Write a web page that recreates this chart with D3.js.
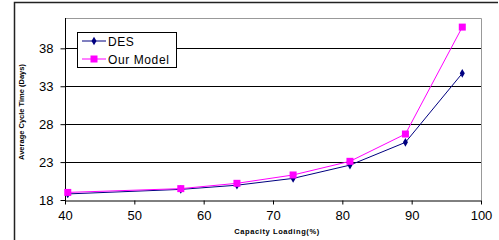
<!DOCTYPE html>
<html><head><meta charset="utf-8">
<script src="https://cdn.jsdelivr.net/npm/d3@7"></script>
<style>body{margin:0;background:#fff;}svg{display:block;font-family:Arial,"Liberation Sans",sans-serif;}</style>
</head><body>
<svg id="c" width="499" height="240"></svg>
<script>
const loading = [40.4, 56.7, 64.8, 72.9, 81.1, 89.1, 97.3];
const desValues = [18.8, 19.4, 19.95, 20.85, 22.6, 25.6, 34.7];
const modelValues = [19.0, 19.5, 20.2, 21.3, 23.1, 26.7, 40.8];
const seriesNames = ["DES", "Our Model"];
const xTicks = [40, 50, 60, 70, 80, 90, 100];
const yTicks = [18, 23, 28, 33, 38];

const svg = d3.select("#c");
const L = 65, R = 481, T = 18, B = 200;
const x = d3.scaleLinear().domain([40, 100]).range([L, R]);
const y = d3.scaleLinear().domain([18, 42]).range([B, T]);

// outer frame
svg.append("path").attr("d", `M14.5,240 V2.5 H498`).attr("fill","none").attr("stroke","#222").attr("stroke-width",1.5);

// plot border (gray)
svg.append("path").attr("d", `M${L},${T+0.5} H${R+0.5} V${B}`).attr("fill","none").attr("stroke","#999").attr("stroke-width",1);

// gridlines
svg.append("g").selectAll("line").data(yTicks.slice(1)).join("line")
  .attr("x1", L).attr("x2", R).attr("y1", d => Math.round(y(d))+0.5).attr("y2", d => Math.round(y(d))+0.5)
  .attr("stroke", "#000").attr("stroke-width", 1);

// axes
const yAxis = d3.axisLeft(y).tickValues(yTicks).tickSize(5).tickSizeOuter(0).tickPadding(7);
const gy = svg.append("g").attr("transform", `translate(${L+0.5},0)`).call(yAxis);
const xAxis = d3.axisBottom(x).tickValues(xTicks).tickSize(4).tickSizeOuter(0).tickPadding(6);
const gx = svg.append("g").attr("transform", `translate(0,${B+0.5})`).call(xAxis);
[gy, gx].forEach(g => {
  g.select(".domain").attr("stroke", "#000");
  g.selectAll(".tick line").attr("stroke", "#000");
  g.selectAll(".tick text").attr("fill", "#000").attr("font-size", 13).attr("font-family", "Arial, 'Liberation Sans', sans-serif");
});
gy.select(".domain").attr("d", `M0,${B+4}V${T}`);

// axis titles
svg.append("text").attr("x", 277).attr("y", 234).attr("text-anchor","middle")
  .attr("font-size", 7.5).attr("font-weight","bold").attr("letter-spacing", 0.6).text("Capacity Loading(%)");
svg.append("text").attr("transform", "translate(24,112) rotate(-90)").attr("text-anchor","middle")
  .attr("font-size", 7.5).attr("font-weight","bold").text("Average Cycle Time (Days)");

// lines
const line = d3.line().x((d,i) => x(loading[i])).y(d => y(d));
svg.append("path").datum(desValues).attr("d", line).attr("fill","none").attr("stroke","#000080").attr("stroke-width",1);
svg.append("path").datum(modelValues).attr("d", line).attr("fill","none").attr("stroke","#ff00ff").attr("stroke-width",1);

// markers
const diamond = d3.symbol().type(d3.symbolDiamond).size(22);
svg.append("g").selectAll("path").data(desValues).join("path")
  .attr("transform", (d,i) => `translate(${x(loading[i])},${y(d)})`).attr("d", diamond).attr("fill", "#000080");
svg.append("g").selectAll("rect").data(modelValues).join("rect")
  .attr("x", (d,i) => x(loading[i]) - 3.5).attr("y", d => y(d) - 3.5).attr("width", 7).attr("height", 7).attr("fill", "#ff00ff");

// legend
const lg = svg.append("g");
lg.append("rect").attr("x", 77.5).attr("y", 32.5).attr("width", 99).attr("height", 35).attr("fill","#fff").attr("stroke","#000");
const colors = ["#000080", "#ff00ff"];
seriesNames.forEach((n, i) => {
  const yy = 41 + i * 18;
  lg.append("line").attr("x1", 82).attr("x2", 106).attr("y1", yy).attr("y2", yy).attr("stroke", colors[i]).attr("stroke-width", 1);
  if (i === 0) lg.append("path").attr("transform", `translate(94,${yy})`).attr("d", diamond).attr("fill", colors[i]);
  else lg.append("rect").attr("x", 90.5).attr("y", yy - 3.5).attr("width", 7).attr("height", 7).attr("fill", colors[i]);
  lg.append("text").attr("x", 108).attr("y", yy + 4.5).attr("font-size", 12).attr("letter-spacing", 0.6).text(n);
});
</script>
</body></html>
